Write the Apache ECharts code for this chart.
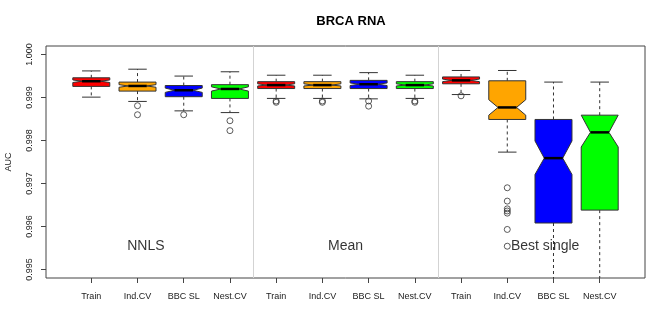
<!DOCTYPE html>
<html>
<head>
<meta charset="utf-8">
<title>BRCA RNA</title>
<script src="https://cdn.jsdelivr.net/npm/echarts@6/dist/echarts.min.js"></script>
<style>
  html, body { margin: 0; padding: 0; background: #fff; }
  #chart { width: 669px; height: 335px; }
</style>
</head>
<body>
<div id="chart"></div>
<script>
// box labels, three groups of four methods
const categories = ['Train', 'Ind.CV', 'BBC SL', 'Nest.CV',
  'Train', 'Ind.CV', 'BBC SL', 'Nest.CV',
  'Train', 'Ind.CV', 'BBC SL', 'Nest.CV']
const groups = ['NNLS', 'Mean', 'Best single']
const yTicks = [0.995, 0.996, 0.997, 0.998, 0.999, 1.000]

// box stats
const whiskerLow = [0.99901, 0.99891, 0.99869, 0.99865, 0.99898, 0.99898, 0.99897, 0.99898, 0.99907, 0.99773, 0.9940, 0.9940]
const q1 = [0.99926, 0.99915, 0.99902, 0.99898, 0.99921, 0.99921, 0.99921, 0.99921, 0.99932, 0.99849, 0.99608, 0.99638]
const notchLow = [0.99935, 0.99924, 0.99912, 0.99915, 0.99927, 0.99927, 0.99928, 0.99927, 0.99937, 0.99859, 0.99721, 0.99785]
const median = [0.99938, 0.99927, 0.99917, 0.99920, 0.99929, 0.99929, 0.99931, 0.99929, 0.99940, 0.99877, 0.99759, 0.99819]
const notchHigh = [0.99941, 0.99930, 0.99922, 0.99925, 0.99932, 0.99932, 0.99934, 0.99932, 0.99943, 0.99895, 0.99799, 0.99859]
const q3 = [0.99946, 0.99936, 0.99928, 0.99930, 0.99937, 0.99937, 0.99940, 0.99937, 0.99948, 0.99939, 0.99849, 0.99859]
const whiskerHigh = [0.99962, 0.99966, 0.99950, 0.99960, 0.99952, 0.99952, 0.99958, 0.99952, 0.99963, 0.99963, 0.99936, 0.99936]
const outliers = [
  [],
  [0.99881, 0.99860],
  [0.99860],
  [0.99846, 0.99823],
  [0.99892, 0.99889],
  [0.99892, 0.99889],
  [0.99892, 0.99880],
  [0.99892, 0.99889],
  [0.99904],
  [0.99690, 0.99659, 0.99641, 0.99636, 0.99631, 0.99593, 0.99554],
  [],
  []
]

const boxColors = ['#FF0000', '#FFA500', '#0000FF', '#00FF00']
const font = 'Liberation Sans, Arial, sans-serif'
const xMin = 0.02
const xMax = 12.98
const boxWidth = 0.8
const groupLabelY = 0.99553

const boxData = categories.map((c, i) => [i + 1, whiskerLow[i], q1[i], notchLow[i], median[i], notchHigh[i], q3[i], whiskerHigh[i]])
const outlierData = []
outliers.forEach((list, i) => list.forEach(v => outlierData.push([i + 1, v])))
const groupSize = categories.length / groups.length
const groupBreaks = groups.slice(1).map((g, k) => (k + 1) * groupSize + 0.5)
const groupLabelData = groups.map((g, k) => [xMin + (k + 0.5) * (xMax - xMin) / groups.length, groupLabelY, g])

function renderBox(params, api) {
  const x = api.value(0)
  const half = api.size([boxWidth, 0])[0] / 2
  const cs = params.coordSys
  const top = cs.y
  const bottom = cs.y + cs.height
  const yOf = v => api.coord([x, v])[1]
  const cx = api.coord([x, api.value(4)])[0]
  const yWL = yOf(api.value(1))
  const yQ1 = yOf(api.value(2))
  const yNL = yOf(api.value(3))
  const yMed = yOf(api.value(4))
  const yNH = yOf(api.value(5))
  const yQ3 = yOf(api.value(6))
  const yWH = yOf(api.value(7))
  const dash = { stroke: '#333', lineWidth: 1, lineDash: [3, 3] }
  const solid = { stroke: '#333', lineWidth: 1 }
  const children = []
  children.push({ type: 'line', shape: { x1: cx, y1: yQ3, x2: cx, y2: Math.max(yWH, top) }, style: dash })
  children.push({ type: 'line', shape: { x1: cx, y1: yQ1, x2: cx, y2: Math.min(yWL, bottom) }, style: dash })
  if (yWH >= top) {
    children.push({ type: 'line', shape: { x1: cx - half / 2, y1: yWH, x2: cx + half / 2, y2: yWH }, style: solid })
  }
  if (yWL <= bottom) {
    children.push({ type: 'line', shape: { x1: cx - half / 2, y1: yWL, x2: cx + half / 2, y2: yWL }, style: solid })
  }
  children.push({
    type: 'polygon',
    shape: {
      points: [
        [cx - half, yQ1], [cx + half, yQ1], [cx + half, yNL], [cx + half / 2, yMed],
        [cx + half, yNH], [cx + half, yQ3], [cx - half, yQ3], [cx - half, yNH],
        [cx - half / 2, yMed], [cx - half, yNL]
      ]
    },
    style: { fill: boxColors[params.dataIndex % boxColors.length], stroke: '#333', lineWidth: 1 }
  })
  children.push({ type: 'line', shape: { x1: cx - half / 2, y1: yMed, x2: cx + half / 2, y2: yMed }, style: { stroke: '#000', lineWidth: 2.5 } })
  return { type: 'group', children: children }
}

const chart = echarts.init(document.getElementById('chart'))
chart.setOption({
  animation: false,
  backgroundColor: '#fff',
  title: {
    text: 'BRCA RNA',
    left: 346,
    top: 10,
    textAlign: 'center',
    textStyle: { fontFamily: font, fontSize: 13, fontWeight: 'bold', color: '#000' }
  },
  grid: {
    left: 46,
    right: 24,
    top: 46,
    bottom: 57,
    outerBoundsMode: 'none',
    containLabel: false,
    show: true,
    borderColor: '#444',
    borderWidth: 1,
    backgroundColor: 'transparent'
  },
  xAxis: {
    type: 'value',
    min: xMin,
    max: xMax,
    axisLine: { show: false },
    splitLine: { show: false },
    axisTick: { show: true, length: 5, lineStyle: { color: '#444' }, customValues: categories.map((c, i) => i + 1) },
    axisLabel: {
      customValues: categories.map((c, i) => i + 1),
      formatter: v => categories[Math.round(v) - 1],
      margin: 14,
      fontFamily: font,
      fontSize: 9,
      color: '#222'
    }
  },
  yAxis: {
    type: 'value',
    min: 0.9948,
    max: 1.0002,
    name: 'AUC',
    nameLocation: 'middle',
    nameRotate: 90,
    nameGap: 33,
    nameTextStyle: { fontFamily: font, fontSize: 9, color: '#222' },
    axisLine: { show: false },
    splitLine: { show: false },
    axisTick: { show: true, length: 5, lineStyle: { color: '#444' }, customValues: yTicks },
    axisLabel: {
      customValues: yTicks,
      formatter: v => v.toFixed(3),
      rotate: 90,
      margin: 12,
      fontFamily: font,
      fontSize: 9,
      color: '#222'
    }
  },
  series: [
    {
      type: 'line',
      data: [],
      silent: true,
      markLine: {
        symbol: 'none',
        silent: true,
        label: { show: false },
        lineStyle: { color: '#D3D3D3', type: 'solid', width: 1 },
        data: groupBreaks.map(b => ({ xAxis: b }))
      }
    },
    {
      type: 'custom',
      renderItem: renderBox,
      data: boxData,
      encode: { x: 0, y: [1, 2, 3, 4, 5, 6, 7] },
      z: 3
    },
    {
      type: 'scatter',
      data: outlierData,
      symbol: 'circle',
      symbolSize: 6,
      itemStyle: { color: 'transparent', borderColor: '#333', borderWidth: 1 },
      z: 4
    },
    {
      type: 'scatter',
      data: groupLabelData,
      symbolSize: 0,
      silent: true,
      label: {
        show: true,
        position: 'inside',
        formatter: p => p.value[2],
        fontFamily: font,
        fontSize: 14,
        color: '#000'
      },
      z: 5
    }
  ]
})
</script>
</body>
</html>
